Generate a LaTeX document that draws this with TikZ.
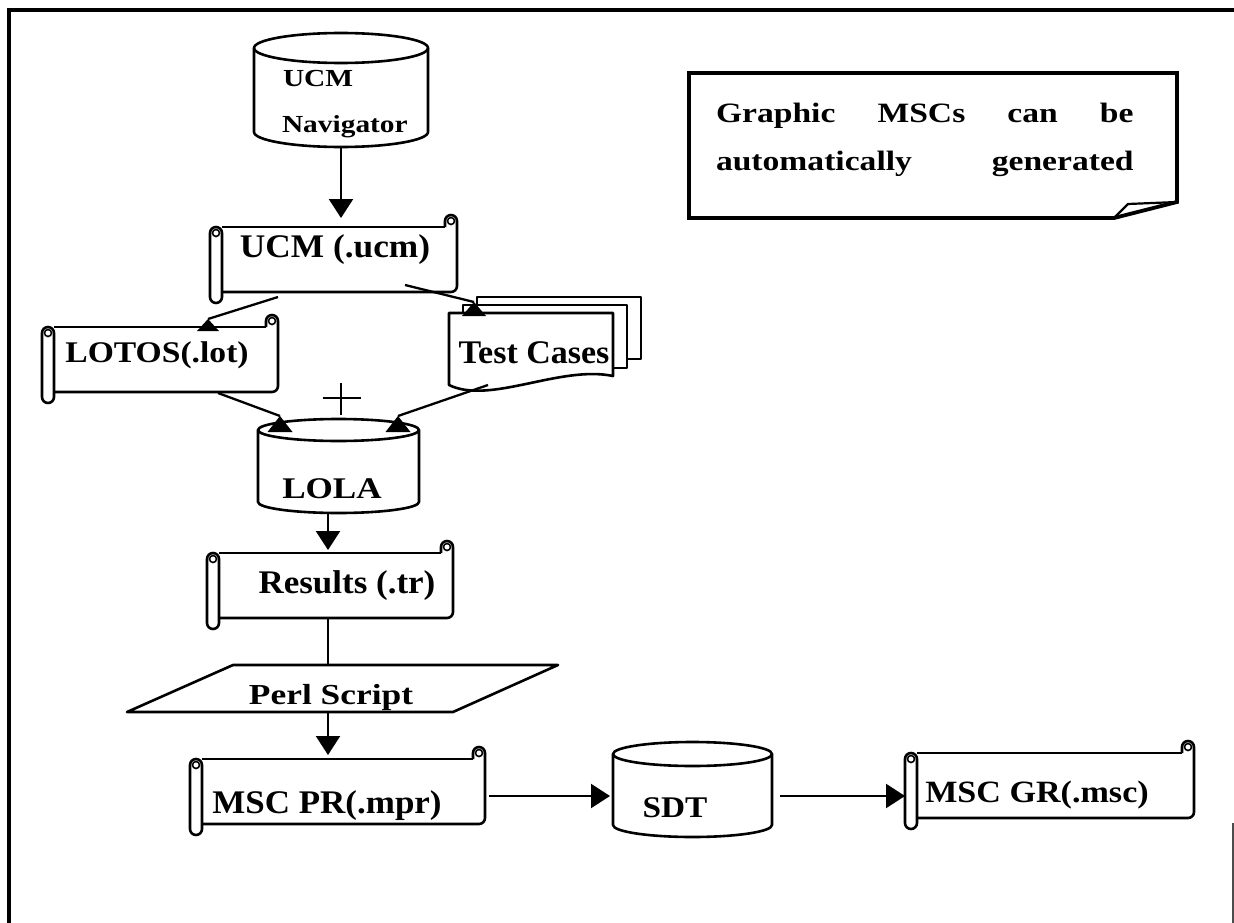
\documentclass[tikz,border=0pt]{standalone}
\usepackage{fontspec}
\setmainfont{Liberation Serif}
\usetikzlibrary{arrows.meta,calc,fit}
\newcommand\cylshape[6]{%
  \pgfmathsetmacro\cylrx{(#4-#2)/2}%
  \draw[shp] (#2,{-(#3+#6)}) -- (#2,{-(#5-#6)}) arc[start angle=180,end angle=360,x radius=\cylrx,y radius=#6] -- (#4,{-(#3+#6)}) arc[start angle=0,end angle=180,x radius=\cylrx,y radius=#6] -- cycle;
  \draw[shp] (#2,{-(#3+#6)}) arc[start angle=180,end angle=360,x radius=\cylrx,y radius=#6];
  \node[box, fit={(#2,-#3) (#4,-#5)}] (#1) {};
}
\newcommand\scrollshape[5]{%
  \draw[shp] (#2,-#3) -- ({#4-12},-#3);
  \draw[shp, rounded corners=6pt] ({#4-12},-#3) -- ({#4-12},{-(#3-12)}) -- (#4,{-(#3-12)}) -- (#4,-#5) -- (#2,-#5);
  \draw[thinshp] ({#4-6},{-(#3-6)}) circle[radius=3.5];
  \draw[shp, rounded corners=6pt] ({#2-12},-#3) rectangle (#2,{-(#5+11)});
  \draw[thinshp] ({#2-6},{-(#3+6)}) circle[radius=3.5];
  \node[box, fit={(#2,-#3) (#4,-#5)}] (#1) {};
}
\newcommand\wtxt[3]{\fontsize{#1}{#1}\selectfont\bfseries\scalebox{#2}[1]{#3}}
\begin{document}
\begin{tikzpicture}[x=1pt,y=1pt,
  shp/.style={line width=2.6pt, line join=round},
  thinshp/.style={line width=1.6pt},
  con/.style={line width=2.3pt},
  arr/.style={con,-{Triangle[length=19pt,width=24pt]}},
  txt/.style={inner sep=0pt, outer sep=0pt, anchor=base},
  box/.style={inner sep=0pt, outer sep=0pt, draw=none}]
\useasboundingbox (0,0) rectangle (1234,-923);
% frame
\draw[line width=3.5pt] (9,-923) -- (9,-10) -- (1234,-10);
\draw[line width=1.2pt, black!70] (1233,-823) -- (1233,-923);

% shapes
\cylshape{nav}{254}{33}{428}{147}{15}
\scrollshape{ucm}{222}{227}{457}{292}
\scrollshape{lotos}{54}{327}{278}{392}
\draw[shp, fill=white] (477,-297) rectangle (641,-359);
\draw[shp, fill=white] (463,-305) rectangle (627,-368);
\draw[shp, fill=white] (449,-313) -- (613,-313) -- (613,-376) .. controls (560,-365) and (490,-405) .. (449,-385) -- cycle;
\node[box, fit={(449,-313) (613,-388)}] (tc) {};
\cylshape{lola}{258}{419}{419}{513}{11}
\scrollshape{results}{219}{553}{453}{618}
\draw[shp] (233,-665) -- (558,-665) -- (453,-712) -- (127,-712) -- cycle;
\node[box, fit={(127,-665) (558,-712)}] (perl) {};
\scrollshape{mscpr}{202}{759}{485}{824}
\cylshape{sdt}{613}{742}{772}{837}{12}
\scrollshape{mscgr}{917}{753}{1194}{818}
% note
\draw[line width=3.8pt, line join=miter] (689,-73) -- (1177,-73) -- (1177,-202) -- (1114,-218) -- (689,-218) -- cycle;
\draw[line width=2.2pt] (1114,-218) -- (1128,-204) -- (1177,-202);
\node[box, fit={(689,-73) (1177,-218)}] (note) {};
% plus
\draw[con] (341,-383) -- (341,-415) (323,-398) -- (361,-398);

% texts
\node[txt, anchor=base west] (navt1) at (283,-87) {\wtxt{24.5}{1.2}{UCM}};
\node[txt, anchor=base west] (navt2) at (282,-133) {\wtxt{24.5}{1.2}{Navigator}};
\node[txt] (ucmt) at (335,-257) {\wtxt{33}{1.07}{UCM (.ucm)}};
\node[txt] (lotost) at (157,-362) {\wtxt{30}{1.12}{LOTOS(.lot)}};
\node[txt] (tct) at (534,-363) {\wtxt{33}{1.03}{Test Cases}};
\node[txt] (lolat) at (332,-498) {\wtxt{30}{1.17}{LOLA}};
\node[txt] (resultst) at (347,-593) {\wtxt{33}{1.06}{Results (.tr)}};
\node[txt] (perlt) at (331,-704) {\wtxt{29}{1.22}{Perl Script}};
\node[txt] (mscprt) at (327,-813) {\wtxt{33}{1.06}{MSC PR(.mpr)}};
\node[txt] (sdtt) at (675,-817) {\wtxt{30}{1.11}{SDT}};
\node[txt] (mscgrt) at (1037,-802) {\wtxt{31}{1.1}{MSC GR(.msc)}};
\node[txt, anchor=base west] (notet1) at (716,-123) {\wtxt{28}{1.2}{\makebox[348pt][s]{Graphic MSCs can be}}};
\node[txt, anchor=base west] (notet2) at (716,-171) {\wtxt{28}{1.2}{\makebox[348pt][s]{automatically generated}}};

% connectors
\coordinate (vx) at (328,0);
\coordinate (hy) at (0,-796);
\draw[arr] (nav.south) -- ([yshift=9pt]ucm.north -| nav.south);
\coordinate (a1s) at ($(ucm.south west)+(56,-5)$);
\coordinate (a1e) at ($(lotos.north west)+(154,8)$);
\draw[con] (a1s) -- (a1e);
\fill (a1e) -- ++(-11,-12) -- ++(22,0) -- cycle;
\coordinate (a2s) at ($(ucm.south west)+(183,7)$);
\coordinate (a2e) at ($(tc.north west)+(25,11)$);
\draw[con] (a2s) -- (a2e);
\fill (a2e) -- ++(-12,-14) -- ++(24,0) -- cycle;
\coordinate (a3s) at ($(lotos.south west)+(164,-1)$);
\coordinate (a3e) at ($(lola.north west)+(22,3)$);
\draw[con] (a3s) -- (a3e);
\fill (a3e) -- ++(-12.5,-16) -- ++(25,0) -- cycle;
\coordinate (a4s) at ($(tc.south west)+(39,3)$);
\coordinate (a4e) at ($(lola.north east)+(-21,3)$);
\draw[con] (a4s) -- (a4e);
\fill (a4e) -- ++(-12.5,-16) -- ++(25,0) -- cycle;
\draw[arr] (lola.south -| vx) -- ([yshift=3pt]results.north -| vx);
\draw[con] (results.south -| vx) -- (perl.north -| vx);
\draw[arr] (perl.south -| vx) -- ([yshift=4pt]mscpr.north -| vx);
\draw[arr] ([xshift=4pt]mscpr.east |- hy) -- ([xshift=-3pt]sdt.west |- hy);
\draw[arr] ([xshift=8pt]sdt.east |- hy) -- ([xshift=-12pt]mscgr.west |- hy);
\end{tikzpicture}
\end{document}
